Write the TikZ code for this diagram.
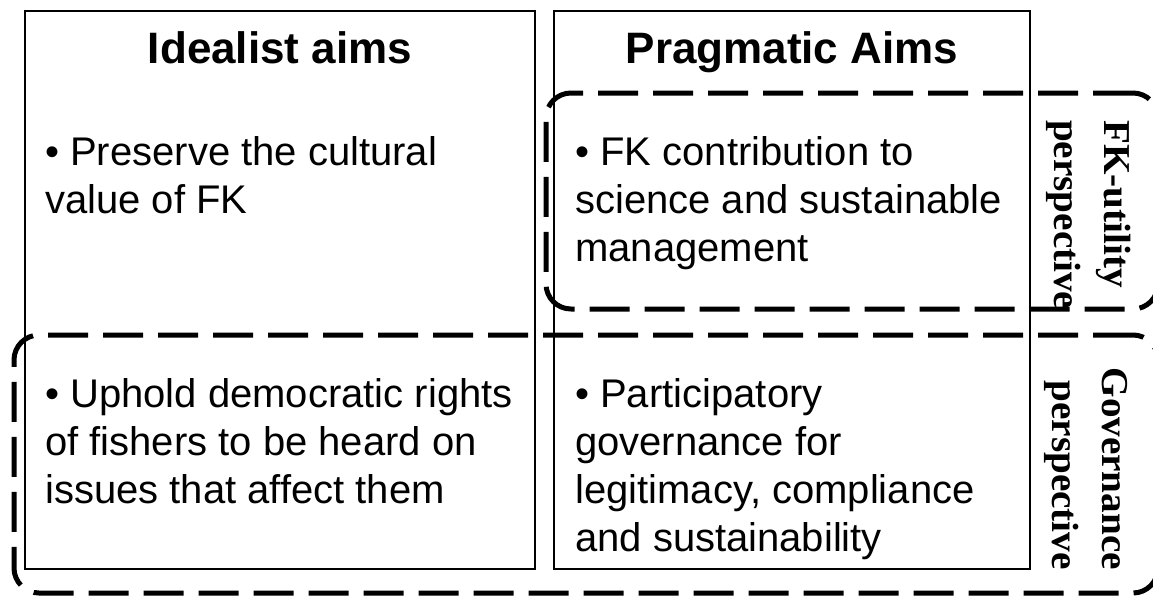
\documentclass[tikz,border=0pt]{standalone}
\usepackage{fontspec}
\setmainfont{Liberation Sans}
\newfontfamily\labfont[FakeStretch=1.03]{Liberation Serif}
\begin{document}
\begin{tikzpicture}[x=1pt,y=-1pt,
  box/.style={draw=black, line width=2pt, outer sep=0pt, inner sep=0pt, anchor=north west},
  dashbox/.style={draw=black, line width=5pt, dash pattern=on 40pt off 15pt, rounded corners=25pt, outer sep=0pt, inner sep=0pt, anchor=north west},
  head/.style={font=\fontsize{44}{50}\selectfont\bfseries, inner sep=0pt, anchor=base},
  body/.style={font=\fontsize{40}{48}\selectfont, align=left, inner sep=0pt, anchor=base west},
  lab/.style={font=\labfont\fontsize{38}{42}\selectfont\bfseries, rotate=-90, inner sep=0pt}]
\useasboundingbox (0,0) rectangle (1153,598);
% column boxes
\node[box, minimum width=510pt, minimum height=558pt] (idealbox) at (25,11) {};
\node[box, minimum width=476pt, minimum height=558pt] (pragbox) at (554,11) {};
% headers
\node[head] (idealhead) at (280,63) {Idealist aims};
\node[head] (praghead) at (792,63) {Pragmatic Aims};
% body texts (anchor = baseline of the last line)
\node[body] (t1) at (45,213) {• Preserve the cultural\\value of FK};
\node[body] (t2) at (575,261) {• FK contribution to\\science and sustainable\\management};
\node[body] (t3) at (45,503) {• Uphold democratic rights\\of fishers to be heard on\\issues that affect them};
\node[body] (t4) at (575,551) {• Participatory\\governance for\\legitimacy, compliance\\and sustainability};
% dashed perspective boxes
\node[dashbox, minimum width=612pt, minimum height=216pt] (fkbox) at (546,93) {};
\node[dashbox, minimum width=1144pt, minimum height=258pt] (govbox) at (14,335) {};
% perspective labels
\node[lab, anchor=base west] (fk1) at (1104,120) {FK-utility};
\node[lab, anchor=base west] (fk2) at (1054,120) {perspective};
\node[lab, anchor=base east] (gov1) at (1102,570) {Governance};
\node[lab, anchor=base east] (gov2) at (1052,570) {perspective};
\end{tikzpicture}
\end{document}
